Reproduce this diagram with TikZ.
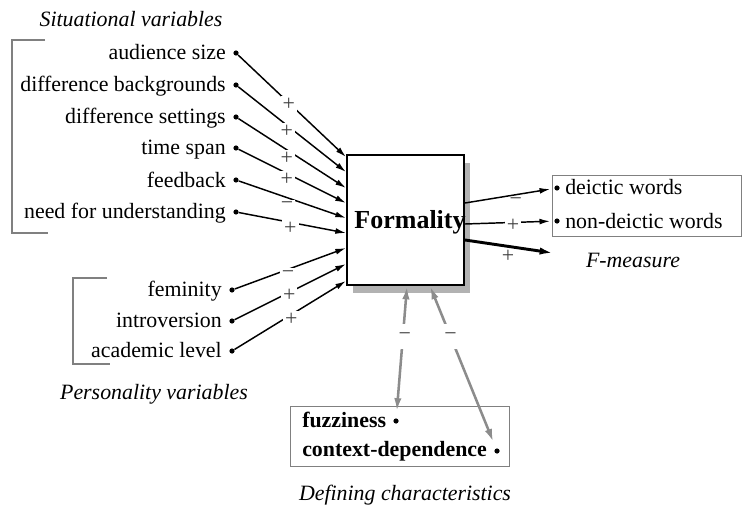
\documentclass[tikz,border=0pt]{standalone}
\usepackage{fontspec}
\setmainfont{Liberation Serif}
\usetikzlibrary{arrows.meta,shadows}
\begin{document}
\begin{tikzpicture}[x=0.75pt,y=-0.75pt,
  every node/.style={font=\fontsize{16.4}{19}\selectfont, inner sep=0pt},
  lbl/.style={anchor=base east},
  lblw/.style={anchor=base west},
  ttl/.style={anchor=base, font=\fontsize{16.4}{19}\selectfont\itshape},
  dot/.style={circle, fill=black, minimum size=3.9pt, inner sep=0pt},
  sign/.style={fill=white, inner sep=1.6pt, text=black!75},
  signb/.style={inner sep=1pt, text=black!75},
  link/.style={line width=1.1pt, -{Latex[length=8pt,width=4.4pt]}},
  bracket/.style={draw=black!50, line width=1.4pt},
  greybox/.style={draw=black!50, line width=1.1pt, anchor=north west},
  back/.style={draw=black!45, line width=1.9pt,
    {Latex[length=10pt,width=5.5pt]}-{Latex[length=10pt,width=5.5pt]}},
  backsign/.style={fill=white, text=black!75, minimum height=19pt, inner xsep=1pt},
]
\useasboundingbox (0,0) rectangle (742,506);

% central concept with its shadow
\node[draw, line width=1.5pt, fill=white, minimum width=87.75pt, minimum height=97.5pt,
  drop shadow={shadow xshift=4.5pt, shadow yshift=-6pt, fill=black!30, opacity=1}]
  (f) at (405.5,220) {};
\node[anchor=base, font=\fontsize{19.5}{22}\selectfont\bfseries] (ft) at (410,228) {Formality};

% situational variables
\node[ttl] (sitt) at (131,27) {Situational variables};
\draw[bracket] (45,40) -- (12,40) -- (12,233) -- (48,233);
\node[lbl] (s1) at (226,60)  {audience size};
\node[lbl] (s2) at (226,92)  {difference backgrounds};
\node[lbl] (s3) at (226,124) {difference settings};
\node[lbl] (s4) at (226,155) {time span};
\node[lbl] (s5) at (226,187) {feedback};
\node[lbl] (s6) at (226,219) {need for understanding};
\node[dot] (d1) at (236,53)  {};
\node[dot] (d2) at (236,85)  {};
\node[dot] (d3) at (236,117) {};
\node[dot] (d4) at (236,148) {};
\node[dot] (d5) at (236,180) {};
\node[dot] (d6) at (236,212) {};
\coordinate (i1) at (346,157);
\coordinate (i2) at (346,172);
\coordinate (i3) at (346,188);
\coordinate (i4) at (346,203);
\coordinate (i5) at (346,218);
\coordinate (i6) at (346,233);
\draw[link] (d1) -- node[sign, pos=.47, yshift=-1pt] {+} (i1);
\draw[link] (d2) -- node[sign, pos=.45, yshift=-5pt] {+} (i2);
\draw[link] (d3) -- node[sign, pos=.45, yshift=-6.5pt] {+} (i3);
\draw[link] (d4) -- node[sign, pos=.45, yshift=-4.5pt] {+} (i4);
\draw[link] (d5) -- node[sign, pos=.45, yshift=-6pt] {−} (i5);
\draw[link] (d6) -- node[sign, pos=.48, yshift=-4.5pt] {+} (i6);

% personality variables
\draw[bracket] (107,278) -- (73,278) -- (73,364) -- (110,364);
\node[lbl] (p1) at (222,296) {feminity};
\node[lbl] (p2) at (222,327) {introversion};
\node[lbl] (p3) at (222,357) {academic level};
\node[ttl] (pert) at (154,399) {Personality variables};
\node[dot] (q1) at (232,290) {};
\node[dot] (q2) at (232,321) {};
\node[dot] (q3) at (232,351) {};
\coordinate (j1) at (346,248);
\coordinate (j2) at (346,264);
\coordinate (j3) at (346,281);
\draw[link] (q1) -- node[sign, pos=.48, yshift=-3.75pt] {−} (j1);
\draw[link] (q2) -- node[sign, pos=.49, yshift=-2.25pt] {+} (j2);
\draw[link] (q3) -- node[sign, pos=.51, yshift=-3.75pt] {+} (j3);

% indicators on the right
\node[greybox, minimum width=141.75pt, minimum height=45.75pt] (dbox) at (552,175) {};
\node[dot] (b1) at (557,188) {};
\node[dot] (b2) at (557,221) {};
\node[lblw] (w1) at (565,195) {deictic words};
\node[lblw] (w2) at (565,228) {non-deictic words};
\node[ttl] (fmt) at (633,267) {F-measure};
\coordinate (o1) at (465,203);
\coordinate (o2) at (465,224);
\coordinate (o3) at (465,240);
\coordinate (fm) at (553,253);
\draw[link, shorten >=3pt] (o1) -- node[signb, pos=.57, yshift=-5.25pt] {−} (b1);
\draw[link, shorten >=3pt] (o2) -- node[sign, pos=.54, yshift=-2pt] {+} (b2);
\draw[line width=2.2pt, -{Latex[length=10pt,width=5.5pt]}] (o3) -- node[signb, pos=.49, yshift=-7.5pt] {+} (fm);

% defining characteristics
\node[greybox, minimum width=164.25pt, minimum height=45pt] (cbox) at (290,406) {};
\node[lblw, font=\fontsize{16.4}{19}\selectfont\bfseries] (c1) at (302,427) {fuzziness};
\node[lblw, font=\fontsize{16.4}{19}\selectfont\bfseries] (c2) at (302,456) {context-dependence};
\node[dot] (e1) at (396,421) {};
\node[dot] (e2) at (497,451) {};
\node[ttl] (deft) at (405,500) {Defining characteristics};
\coordinate (k1) at (407,286);
\coordinate (k2) at (430,286);
\draw[back, shorten <=5pt] (e1) -- node[backsign, pos=.62, xshift=1.5pt] {−} (k1);
\draw[back, shorten <=5pt] (e2) -- node[backsign, pos=.69] {−} (k2);
\end{tikzpicture}
\end{document}
